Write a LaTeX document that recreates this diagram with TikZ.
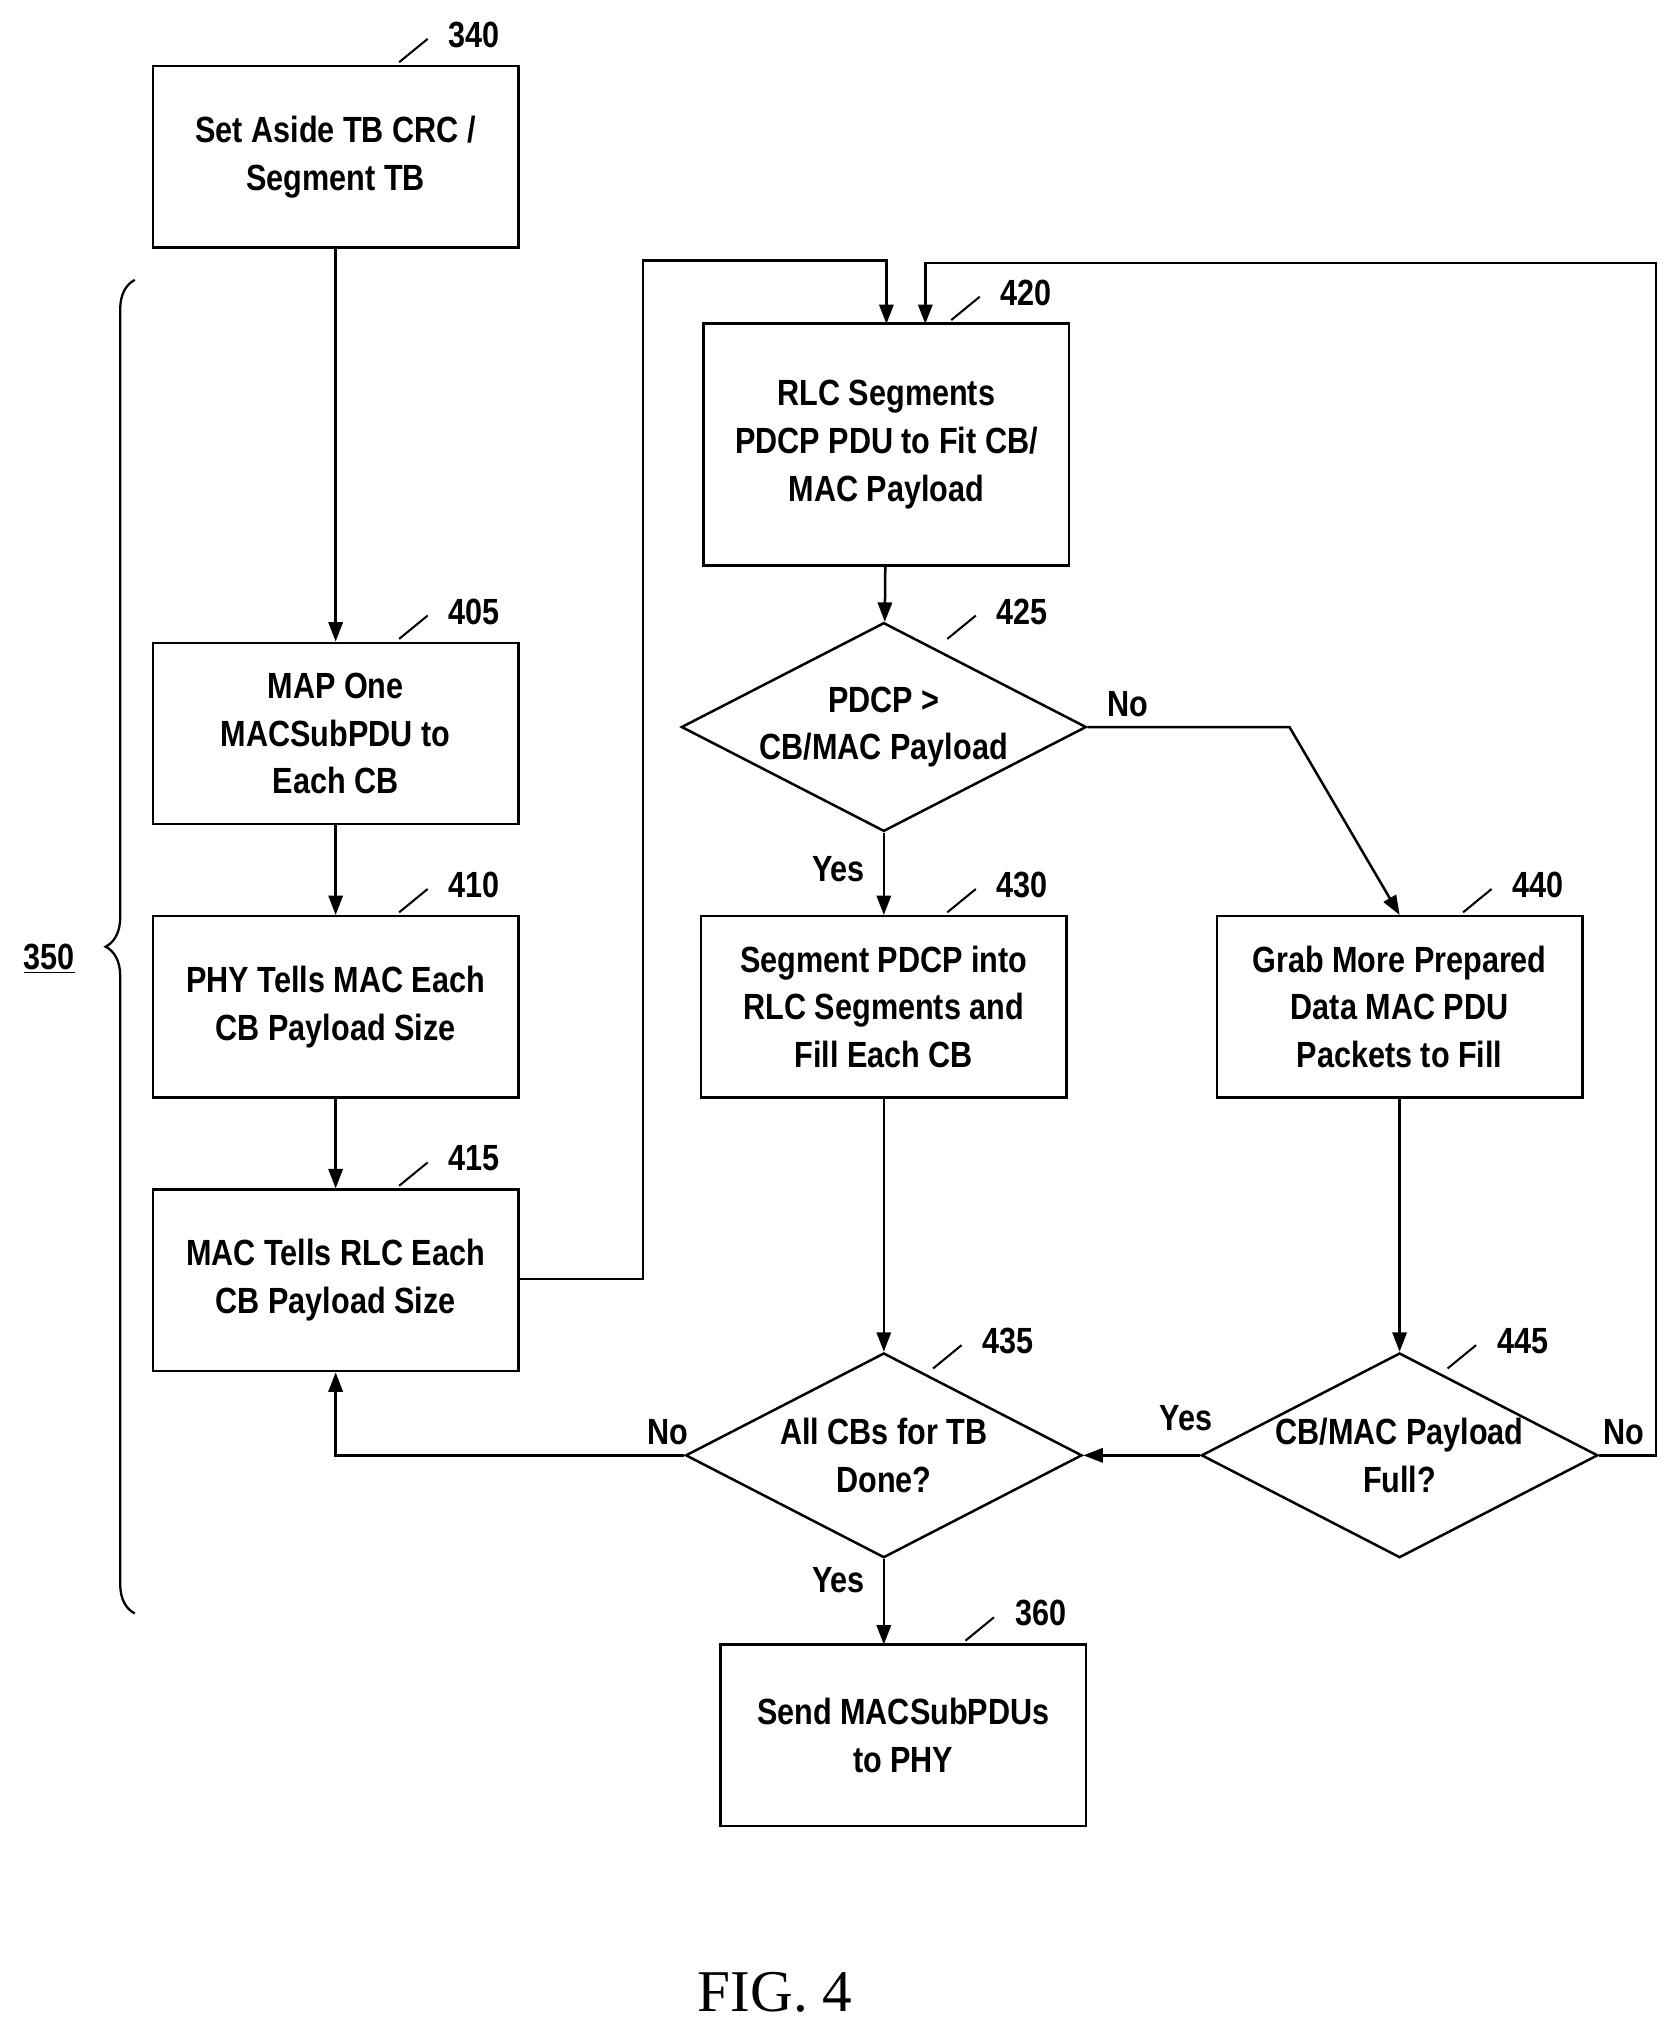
\documentclass[tikz,border=0pt]{standalone}
\usepackage{fontspec}
\setmainfont{Liberation Sans}[FakeStretch=0.84]
\newfontfamily\figfont{Liberation Serif}
\usetikzlibrary{shapes.geometric,arrows.meta,decorations.pathreplacing}
\begin{document}
\begin{tikzpicture}[x=0.02cm,y=-0.02cm,
  every node/.style={font=\fontsize{16}{21}\selectfont\bfseries},
  box/.style={draw,line width=1.1pt,minimum width=5.64cm,minimum height=2.8cm,align=center,inner sep=0},
  dia/.style={draw,line width=1.1pt,diamond,aspect=1.94,minimum width=6.12cm,minimum height=3.16cm,inner sep=0,align=center},
  ln/.style={line width=1.1pt},
  arr/.style={line width=1.1pt,-{Triangle[length=0.3cm,width=0.22cm]}},
  lbl/.style={font=\fontsize{16}{20}\selectfont\bfseries}]
\useasboundingbox (0,0) rectangle (1296,1568);
\node[box] (b340) at (259,121) {Set Aside TB CRC /\\Segment TB};
\node[box] (b405) at (259,566) {MAP One\\MACSubPDU to\\Each CB};
\node[box] (b410) at (259,777) {PHY Tells MAC Each\\CB Payload Size};
\node[box] (b415) at (259,988) {MAC Tells RLC Each\\CB Payload Size};
\node[box,minimum height=3.74cm] (b420) at (684,343) {RLC Segments\\PDCP PDU to Fit CB/\\MAC Payload};
\node[dia] (d425) at (682,561) {PDCP >\\CB/MAC Payload};
\node[box] (b430) at (682,777) {Segment PDCP into\\RLC Segments and\\Fill Each CB};
\node[box] (b440) at (1080,777) {Grab More Prepared\\Data MAC PDU\\Packets to Fill};
\node[dia] (d435) at (682,1123) {All CBs for TB\\Done?};
\node[dia] (d445) at (1080,1123) {CB/MAC Payload\\Full?};
\node[box] (b360) at (697,1339) {Send MACSubPDUs\\to PHY};
% reference labels
\foreach \x/\y/\t in {366/27/340,366/472/405,366/683/410,366/894/415,792/226/420,789/472/425,789/683/430,1187/683/440,778/1035/435,1175/1035/445,803/1245/360}{
  \node[lbl] (r\t) at (\x,\y) {\t};
  \draw[line width=0.9pt] (\x-58,\y+21) -- (\x-36,\y+3);
}
% connectors
\draw[arr] (b340) -- (b405);
\draw[arr] (b405) -- (b410);
\draw[arr] (b410) -- (b415);
\coordinate (p1) at (496,987); \coordinate (p2) at (496,201);
\draw[arr] (b415.east |- p1) -- (p1) -- (p2) -- (684,201) -- (684,250);
\coordinate (q1) at (1278,1123); \coordinate (q2) at (1278,203);
\draw[arr] (d445.east) -- (q1) -- (q2) -- (714,203) -- (714,250);
\node[lbl] (no445) at (1253,1105) {No};
\draw[arr] (b420) -- (d425);
\coordinate (r1) at (995,561);
\draw[arr] (d425.east) -- (r1) -- (b440.north);
\node[lbl] (no425) at (870,543) {No};
\draw[arr] (d425.south) -- (b430.north);
\node[lbl] (yes425) at (647,671) {Yes};
\draw[arr] (b430.south) -- (d435.north);
\draw[arr] (b440.south) -- (d445.north);
\draw[arr] (d445.west) -- (d435.east);
\node[lbl] (yes445) at (915,1094) {Yes};
\coordinate (s1) at (259,1123);
\draw[arr] (d435.west) -- (s1) -- (b415.south);
\node[lbl] (no435) at (515,1105) {No};
\draw[arr] (d435.south) -- (682,1269);
\node[lbl] (yes435) at (647,1219) {Yes};
% brace
\coordinate (brt) at (104,216); \coordinate (brb) at (104,1245);
\draw[line width=1pt,decorate,decoration={brace,amplitude=0.45cm}] (brb) -- (brt);
\node[lbl] (l350) at (38,740) {\underline{350}};
\node[font=\figfont\fontsize{26}{30}\selectfont] (fig) at (598,1537) {FIG. 4};
\end{tikzpicture}
\end{document}
